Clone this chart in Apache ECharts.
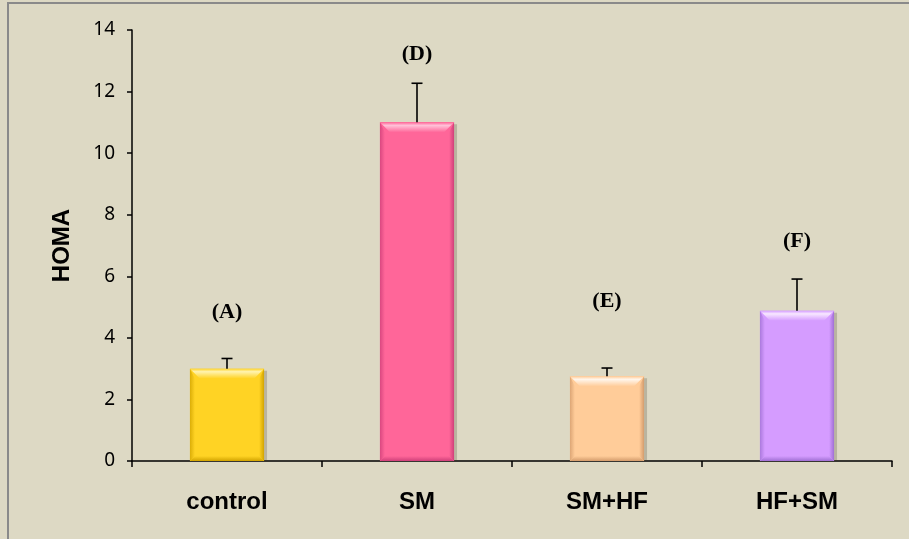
<!DOCTYPE html>
<html>
<head>
<meta charset="utf-8">
<script src="https://cdn.jsdelivr.net/npm/echarts@6/dist/echarts.min.js"></script>
<style>
  html, body { margin: 0; padding: 0; background: #ddd9c4; }
  #chart { width: 909px; height: 539px; }
</style>
</head>
<body>
<div id="chart"></div>
<script>
// Groups and HOMA index values
const categories = ['control', 'SM', 'SM+HF', 'HF+SM'];
const homaMean = [3.0, 11.0, 2.75, 4.88];
const homaError = [0.33, 1.27, 0.27, 1.03];
const groupLetters = ['(A)', '(D)', '(E)', '(F)'];
const letterHeight = [4.82, 13.22, 5.2, 7.14];
const yTicks = [0, 2, 4, 6, 8, 10, 12, 14];

// Bar palette: face, highlight bevel, shaded bevel
const barColors = [
  { face: '#ffd324', light: '#fff3b0', dark: '#d2a400' },
  { face: '#ff6699', light: '#ffc2d8', dark: '#d0407a' },
  { face: '#ffcc99', light: '#fff6ec', dark: '#d49c6c' },
  { face: '#d59cff', light: '#f8e8ff', dark: '#a070d4' }
];

const chart = echarts.init(document.getElementById('chart'));

function bevelBar(params, api) {
  const i = params.dataIndex;
  const base = api.coord([api.value(0), 0]);
  const top = api.coord([api.value(0), api.value(1)]);
  const band = api.size([1, 0])[0];
  const w = band * 0.39;
  const x0 = base[0] - w / 2, x1 = base[0] + w / 2;
  const y0 = top[1], y1 = base[1];
  const b = 10, s = 5;
  const c = barColors[i];
  return {
    type: 'group',
    children: [
      { type: 'rect', shape: { x: x0 + 2, y: y0 + 2, width: w + 1, height: y1 - y0 - 2 },
        style: { fill: 'rgba(60,50,30,0.22)' } },
      { type: 'rect', shape: { x: x0, y: y0, width: w, height: y1 - y0 },
        style: { fill: c.face } },
      { type: 'polygon', shape: { points: [[x0, y0], [x1, y0], [x1 - b, y0 + b], [x0 + b, y0 + b]] },
        style: { fill: new echarts.graphic.LinearGradient(0, 0, 0, 1, [
          { offset: 0, color: c.face }, { offset: 0.3, color: c.light }, { offset: 1, color: c.face }]) } },
      { type: 'polygon', shape: { points: [[x0, y0], [x0 + s, y0 + b], [x0 + s, y1 - s], [x0, y1]] },
        style: { fill: new echarts.graphic.LinearGradient(0, 0, 1, 0, [
          { offset: 0, color: c.dark }, { offset: 1, color: c.face }]), opacity: 0.8 } },
      { type: 'polygon', shape: { points: [[x1, y0], [x1 - s, y0 + b], [x1 - s, y1 - s], [x1, y1]] },
        style: { fill: new echarts.graphic.LinearGradient(1, 0, 0, 0, [
          { offset: 0, color: c.dark }, { offset: 1, color: c.face }]) } },
      { type: 'polygon', shape: { points: [[x0, y1], [x0 + s, y1 - s], [x1 - s, y1 - s], [x1, y1]] },
        style: { fill: new echarts.graphic.LinearGradient(0, 1, 0, 0, [
          { offset: 0, color: c.dark }, { offset: 1, color: c.face }]) } }
    ]
  };
}

function errorBar(params, api) {
  const lo = api.coord([api.value(0), api.value(1)]);
  const hi = api.coord([api.value(0), api.value(1) + api.value(2)]);
  const cap = 5.5;
  const style = { stroke: '#000', lineWidth: 1.6 };
  return {
    type: 'group',
    children: [
      { type: 'line', shape: { x1: lo[0], y1: lo[1], x2: hi[0], y2: hi[1] }, style },
      { type: 'line', shape: { x1: hi[0] - cap, y1: hi[1], x2: hi[0] + cap, y2: hi[1] }, style }
    ]
  };
}

chart.setOption({
  backgroundColor: '#ddd9c4',
  animation: false,
  graphic: [{
    type: 'rect', z: -10, silent: true,
    shape: { x: 8, y: 3, width: 960, height: 600 },
    style: { fill: '#ddd9c4', stroke: '#8a8a8a', lineWidth: 2 }
  }],
  grid: { left: 132, right: 17, top: 30, bottom: 78 },
  xAxis: {
    type: 'category',
    data: categories,
    boundaryGap: true,
    axisLine: { lineStyle: { color: '#000', width: 1.5 } },
    axisTick: { show: true, length: 6, lineStyle: { color: '#000', width: 1.5 } },
    axisLabel: { color: '#000', fontFamily: 'Liberation Sans, Arial', fontWeight: 'bold', fontSize: 24, margin: 29 }
  },
  yAxis: {
    type: 'value',
    min: yTicks[0], max: yTicks[yTicks.length - 1], interval: 2,
    name: 'HOMA',
    nameLocation: 'middle',
    nameGap: 58,
    nameRotate: 90,
    nameTextStyle: { color: '#000', fontFamily: 'Liberation Sans, Arial', fontWeight: 'bold', fontSize: 24 },
    axisLine: { show: true, lineStyle: { color: '#000', width: 1.5 } },
    axisTick: { show: true, length: 5, lineStyle: { color: '#000', width: 1.5 } },
    splitLine: { show: false },
    axisLabel: { color: '#000', fontFamily: 'Noto Sans', fontSize: 19, margin: 17 }
  },
  series: [
    {
      type: 'custom',
      renderItem: bevelBar,
      data: homaMean.map((v, i) => [i, v]),
      encode: { x: 0, y: 1 },
      z: 2
    },
    {
      type: 'custom',
      renderItem: errorBar,
      data: homaMean.map((v, i) => [i, v, homaError[i]]),
      encode: { x: 0, y: [1] },
      z: 3
    },
    {
      type: 'scatter',
      symbolSize: 0,
      itemStyle: { opacity: 1 },
      data: letterHeight.map((v, i) => [i, v]),
      label: {
        show: true,
        position: 'inside',
        formatter: p => groupLetters[p.dataIndex],
        color: '#000',
        opacity: 1,
        textBorderWidth: 0,
        fontFamily: 'Liberation Serif, Times New Roman',
        fontWeight: 'bold',
        fontSize: 22
      },
      z: 4
    }
  ]
});
</script>
</body>
</html>
